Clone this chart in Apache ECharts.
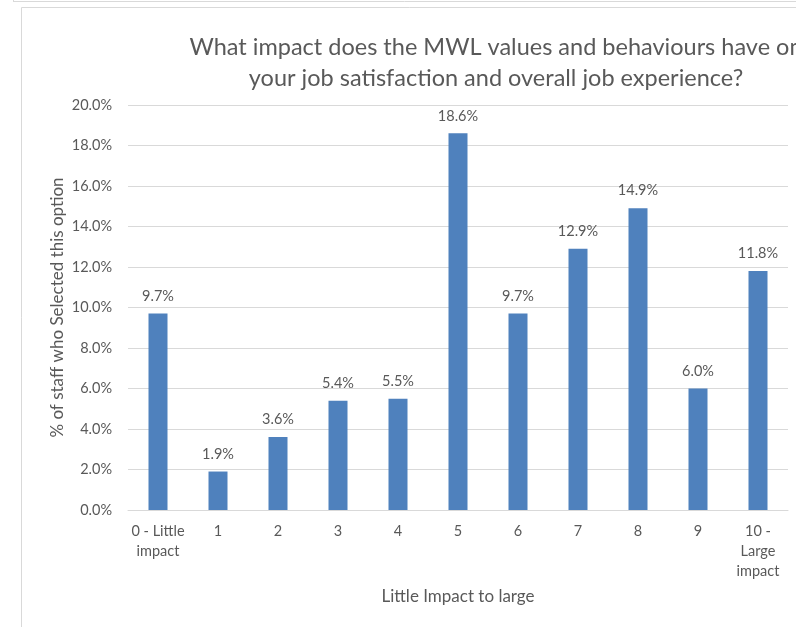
<!DOCTYPE html>
<html>
<head>
<meta charset="utf-8">
<script src="https://cdn.jsdelivr.net/npm/echarts@6/dist/echarts.min.js"></script>
<style>
  html, body { margin: 0; padding: 0; background: #ffffff; }
  #chart { width: 796px; height: 627px; }
</style>
</head>
<body>
<div id="chart"></div>
<script>
// Survey responses: impact score categories and share of staff per option (%)
const categories = ['0 - Little\nimpact', '1', '2', '3', '4', '5', '6', '7', '8', '9', '10 -\nLarge\nimpact'];
const shares = [9.7, 1.9, 3.6, 5.4, 5.5, 18.6, 9.7, 12.9, 14.9, 6.0, 11.8];
const yTicks = { min: 0, max: 20, step: 2 };

const textColor = '#595959';
const lineColor = '#d9d9d9';
const fontFamily = 'Lato, "Open Sans", sans-serif';

const chart = echarts.init(document.getElementById('chart'), null, { renderer: 'canvas' });
chart.setOption({
  animation: false,
  backgroundColor: '#ffffff',
  textStyle: { fontFamily: fontFamily },
  graphic: [
    { type: 'line', shape: { x1: 13, y1: 1.5, x2: 796, y2: 1.5 }, style: { stroke: lineColor, lineWidth: 1 } },
    { type: 'line', shape: { x1: 13.5, y1: 0, x2: 13.5, y2: 2 }, style: { stroke: lineColor, lineWidth: 1 } },
    { type: 'rect', shape: { x: 21.5, y: 7.5, width: 900, height: 700 }, style: { fill: 'none', stroke: lineColor, lineWidth: 1 } }
  ],
  title: {
    text: 'What impact does the MWL values and behaviours have on\nyour job satisfaction and overall job experience?',
    left: 491,
    top: 27,
    textAlign: 'center',
    textStyle: { color: textColor, fontSize: 23.5, fontWeight: 'normal', lineHeight: 31, fontFamily: fontFamily }
  },
  grid: { left: 128, right: 8, top: 105, bottom: 117 },
  xAxis: {
    type: 'category',
    data: categories,
    name: 'Little Impact to large',
    nameLocation: 'middle',
    nameGap: 78,
    nameMoveOverlap: false,
    nameTextStyle: { color: textColor, fontSize: 17 },
    axisLine: { lineStyle: { color: lineColor } },
    axisTick: { show: false },
    axisLabel: { color: textColor, fontSize: 14.5, lineHeight: 20, interval: 0, margin: 11 }
  },
  yAxis: {
    type: 'value',
    min: yTicks.min,
    max: yTicks.max,
    interval: yTicks.step,
    name: '% of staff who Selected this option',
    nameLocation: 'middle',
    nameGap: 62,
    nameMoveOverlap: false,
    nameTextStyle: { color: textColor, fontSize: 17 },
    axisLine: { show: false },
    axisTick: { show: false },
    splitLine: { lineStyle: { color: lineColor } },
    axisLabel: { color: textColor, fontSize: 14.5, margin: 16, formatter: v => v.toFixed(1) + '%' }
  },
  series: [{
    type: 'bar',
    data: shares,
    barWidth: 19,
    itemStyle: { color: '#4F81BD' },
    label: {
      show: true,
      position: 'top',
      distance: 10,
      color: textColor,
      fontSize: 14.5,
      formatter: p => p.value.toFixed(1) + '%'
    }
  }]
});
</script>
</body>
</html>
